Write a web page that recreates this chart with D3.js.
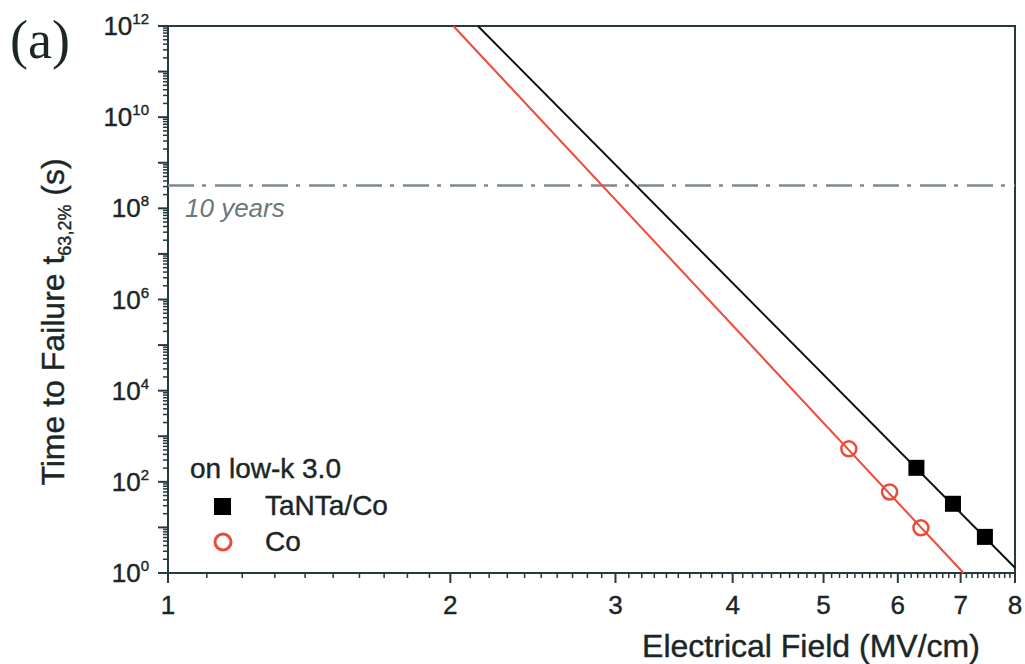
<!DOCTYPE html>
<html><head><meta charset="utf-8">
<script src="https://cdn.jsdelivr.net/npm/d3@7"></script>
<style>body{margin:0;background:#fff}svg{display:block}</style>
</head><body>
<svg id="c" width="1025" height="664"></svg>
<script>
// ---- data ----
const tantaField = [6.28, 6.87, 7.43];
const tantaTTF   = [203, 33, 6.2];
const coField    = [5.32, 5.88, 6.35];
const coTTF      = [530, 60, 9.8];
const tantaFitField = [2.14, 8.0];
const tantaFitTTF   = [1e12, 1.3];
const coFitField    = [2.015, 7.05];
const coFitTTF      = [1e12, 1.0];
const tenYears = 3.156e8;
const xTickLabels = [1, 2, 3, 4, 5, 6, 7, 8];
const yTickLabels = [0, 2, 4, 6, 8, 10, 12];

const svg = d3.select("#c");
const L = 168, R = 1015, T = 26, B = 573;
const x = d3.scaleLog().domain([1, 8]).range([L, R]);
const y = d3.scaleLog().domain([1, 1e12]).range([B, T]);
const axisColor = "#243a3c";
const textColor = "#1b2626";
const red = "#ee4a38";
const font = "'Liberation Sans', Arial, Helvetica, sans-serif";

function txt(sel) {
  return sel.attr("font-family", font).attr("fill", textColor)
    .attr("stroke", textColor).attr("stroke-width", 0.4);
}

// frame
svg.append("rect").attr("x", L).attr("y", T).attr("width", R - L).attr("height", B - T)
  .attr("fill", "none").attr("stroke", axisColor).attr("stroke-width", 2);

// x ticks
const xMinor = [];
for (let v = 11; v < 80; v++) { if (v % 10 !== 0) xMinor.push(v / 10); }
svg.append("g").selectAll("line").data(xMinor).join("line")
  .attr("x1", d => x(d)).attr("x2", d => x(d)).attr("y1", B).attr("y2", B + 5)
  .attr("stroke", axisColor).attr("stroke-width", 1.5);
svg.append("g").selectAll("line").data(xTickLabels).join("line")
  .attr("x1", d => x(d)).attr("x2", d => x(d)).attr("y1", B).attr("y2", B + 10)
  .attr("stroke", axisColor).attr("stroke-width", 2);
txt(svg.append("g").selectAll("text").data(xTickLabels).join("text")
  .attr("x", d => x(d)).attr("y", B + 41).attr("text-anchor", "middle")
  .attr("font-size", 26)).text(d => d);

// y ticks
const yMajor = d3.range(0, 13);
const yMinor = [];
yMajor.slice(0, 12).forEach(e => { for (let k = 2; k <= 9; k++) yMinor.push(k * Math.pow(10, e)); });
svg.append("g").selectAll("line").data(yMinor).join("line")
  .attr("x1", L - 5).attr("x2", L).attr("y1", d => y(d)).attr("y2", d => y(d))
  .attr("stroke", axisColor).attr("stroke-width", 1.5);
svg.append("g").selectAll("line").data(yMajor).join("line")
  .attr("x1", L - 10).attr("x2", L).attr("y1", d => y(Math.pow(10, d))).attr("y2", d => y(Math.pow(10, d)))
  .attr("stroke", axisColor).attr("stroke-width", 2);
const yl = txt(svg.append("g").selectAll("text").data(yTickLabels).join("text")
  .attr("x", 149).attr("y", d => y(Math.pow(10, d)) + 9).attr("text-anchor", "end")
  .attr("font-size", 26));
yl.append("tspan").text("10");
yl.append("tspan").attr("dy", -11).attr("font-size", 15).text(d => d);

// 10 years line
svg.append("line").attr("x1", L).attr("x2", R).attr("y1", y(tenYears)).attr("y2", y(tenYears))
  .attr("stroke", "#7d8a8a").attr("stroke-width", 2.5).attr("stroke-dasharray", "26 8 4 9");
svg.append("text").attr("x", 185).attr("y", y(tenYears) + 31)
  .attr("font-family", font).attr("font-size", 26)
  .attr("font-style", "italic").attr("fill", "#6a7878").text("10 years");

// fit lines
const line = d3.line().x(d => x(d[0])).y(d => y(d[1]));
svg.append("path").datum(d3.zip(tantaFitField, tantaFitTTF)).attr("d", line)
  .attr("fill", "none").attr("stroke", "#111").attr("stroke-width", 2);
svg.append("path").datum(d3.zip(coFitField, coFitTTF)).attr("d", line)
  .attr("fill", "none").attr("stroke", red).attr("stroke-width", 2);

// markers
svg.append("g").selectAll("rect").data(d3.zip(tantaField, tantaTTF)).join("rect")
  .attr("x", d => x(d[0]) - 8).attr("y", d => y(d[1]) - 8).attr("width", 16).attr("height", 16)
  .attr("fill", "#000");
svg.append("g").selectAll("circle").data(d3.zip(coField, coTTF)).join("circle")
  .attr("cx", d => x(d[0])).attr("cy", d => y(d[1])).attr("r", 7.5)
  .attr("fill", "none").attr("stroke", red).attr("stroke-width", 2.5);

// legend
txt(svg.append("text").attr("x", 190).attr("y", 478).attr("font-size", 28)).text("on low-k 3.0");
svg.append("rect").attr("x", 214).attr("y", 498).attr("width", 17).attr("height", 17).attr("fill", "#000");
txt(svg.append("text").attr("x", 265).attr("y", 515).attr("font-size", 28)).text("TaNTa/Co");
svg.append("circle").attr("cx", 223).attr("cy", 542).attr("r", 8).attr("fill", "none")
  .attr("stroke", red).attr("stroke-width", 3);
txt(svg.append("text").attr("x", 265).attr("y", 551).attr("font-size", 28)).text("Co");

// axis titles
txt(svg.append("text").attr("x", 811).attr("y", 657).attr("text-anchor", "middle")
  .attr("font-size", 32)).text("Electrical Field (MV/cm)");
const yt = txt(svg.append("text").attr("transform", "translate(64,322) rotate(-90)").attr("text-anchor", "middle")
  .attr("font-size", 32));
yt.append("tspan").text("Time to Failure t");
yt.append("tspan").attr("dy", 7).attr("font-size", 18).text("63,2%");
yt.append("tspan").attr("dy", -7).text(" (s)");

// panel label
svg.append("text").attr("x", 10).attr("y", 58).attr("font-family", "'Liberation Serif', 'Times New Roman', serif")
  .attr("font-size", 54).attr("fill", textColor).text("(a)");
</script>
</body></html>
